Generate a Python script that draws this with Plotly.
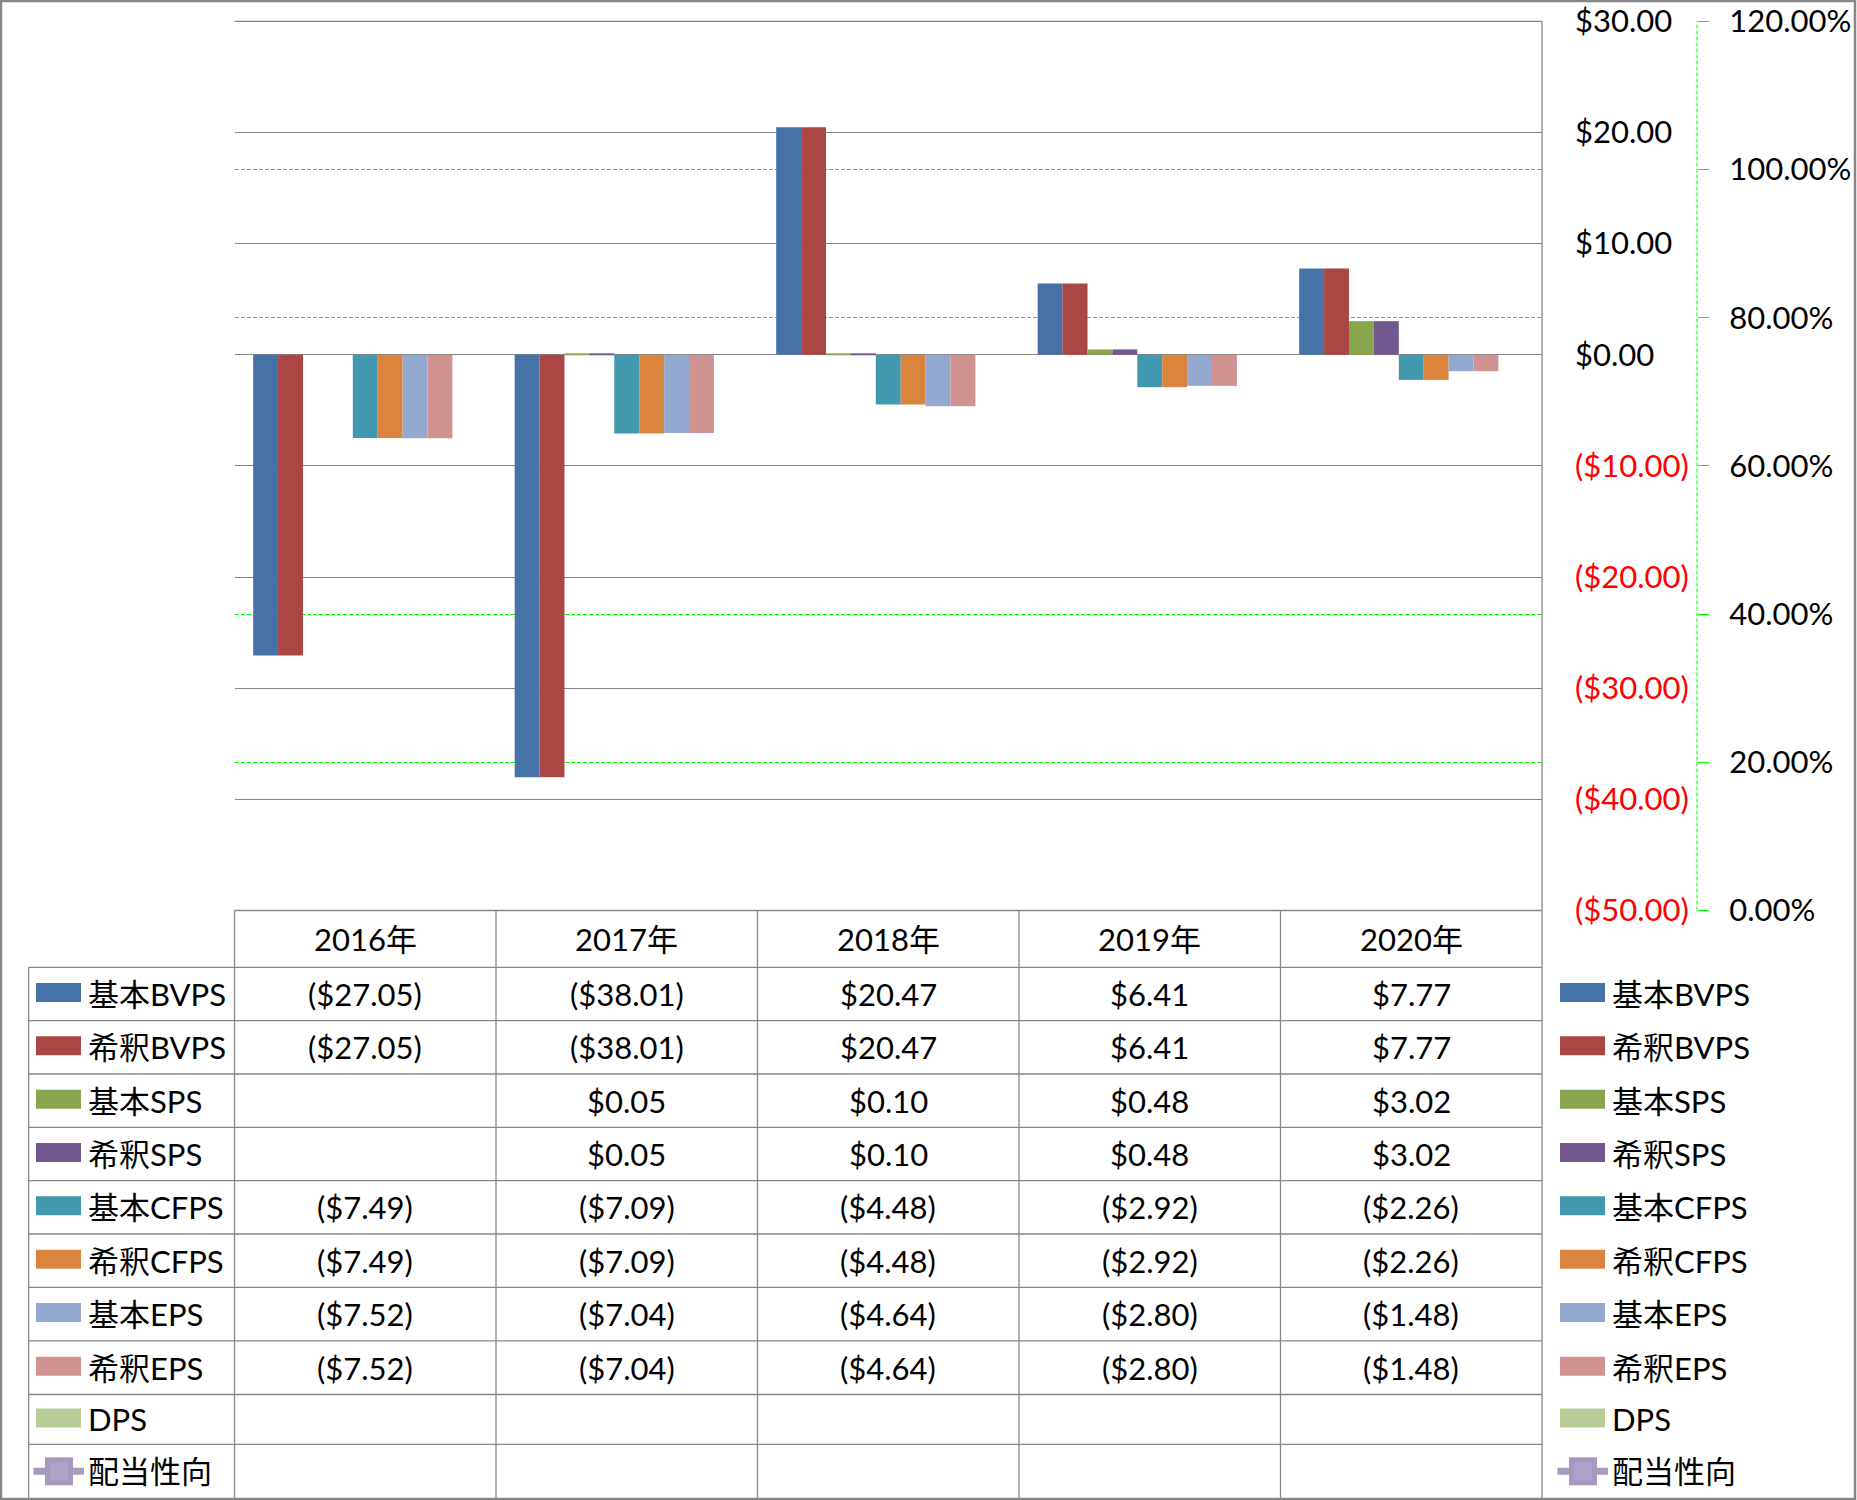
import plotly.graph_objects as go

# ---------------- data ----------------
years = ["2016年", "2017年", "2018年", "2019年", "2020年"]

series_names = ["基本BVPS", "希釈BVPS", "基本SPS", "希釈SPS", "基本CFPS",
                "希釈CFPS", "基本EPS", "希釈EPS", "DPS"]
basic_bvps = [-27.05, -38.01, 20.47, 6.41, 7.77]
diluted_bvps = [-27.05, -38.01, 20.47, 6.41, 7.77]
basic_sps = [None, 0.05, 0.10, 0.48, 3.02]
diluted_sps = [None, 0.05, 0.10, 0.48, 3.02]
basic_cfps = [-7.49, -7.09, -4.48, -2.92, -2.26]
diluted_cfps = [-7.49, -7.09, -4.48, -2.92, -2.26]
basic_eps = [-7.52, -7.04, -4.64, -2.80, -1.48]
diluted_eps = [-7.52, -7.04, -4.64, -2.80, -1.48]
dps = [None, None, None, None, None]
payout_name = "配当性向"
payout_ratio = [None, None, None, None, None]

dollar_ticks = [-50, -40, -30, -20, -10, 0, 10, 20, 30]
pct_ticks = [0.0, 0.2, 0.4, 0.6, 0.8, 1.0, 1.2]

# ---------------- styles ----------------
bar_colors = ["#4572A7", "#AA4643", "#89A54E", "#71588F", "#4198AF",
              "#DB843D", "#93A9CF", "#D19392", "#B9CD96"]
payout_color = "#A99BBD"
GRID = "#878787"
GREEN = "#00FF00"
FONT = "Lato, Noto Sans CJK JP, sans-serif"
FS = 31

W, H = 1857, 1500
def fx(p):
    return p / W
def fy(p):
    return 1 - p / H

PLOT_L, PLOT_R = 234.5, 1542.0
PLOT_T, PLOT_B = 21.3, 910.5
PCT_AXIS_X = 1697.0
row_bounds = [910.5, 967.3, 1020.7, 1074.0, 1127.3, 1180.6, 1234.0,
              1287.3, 1340.8, 1394.5, 1444.3, 1498.3]
LEG_COL_L = 28.7

def money(v):
    if v is None:
        return ""
    return f"${v:,.2f}" if v >= 0 else f"(${-v:,.2f})"

def money_tick(v):
    if v >= 0:
        return f"${v:,.2f}"
    return f'<span style="color:#FF0000">(${-v:,.2f})</span>'

all_series = [basic_bvps, diluted_bvps, basic_sps, diluted_sps, basic_cfps,
              diluted_cfps, basic_eps, diluted_eps, dps]

fig = go.Figure()

# percent line (secondary, empty)
fig.add_trace(go.Scatter(x=years, y=payout_ratio, name=payout_name, mode="lines+markers",
                         line=dict(color=payout_color, width=5),
                         marker=dict(symbol="square", size=14, color=payout_color),
                         xaxis="x", yaxis="y", showlegend=False))

n = len(all_series)
slot = 1 / (n + 1.5)
for i, (name, vals, col) in enumerate(zip(series_names, all_series, bar_colors)):
    fig.add_trace(go.Bar(x=years, y=vals, name=name, marker=dict(color=col, line=dict(width=0)),
                         width=slot, offset=-n * slot / 2 + i * slot,
                         xaxis="x", yaxis="y2", showlegend=False))

shapes = []
annotations = []

def hline(y, x0, x1, color=GRID, width=1.3, dash="solid"):
    shapes.append(dict(type="line", xref="paper", yref="paper", x0=fx(x0), x1=fx(x1),
                       y0=fy(y), y1=fy(y), line=dict(color=color, width=width, dash=dash)))

def vline(x, y0, y1, color=GRID, width=1.3, dash="solid"):
    shapes.append(dict(type="line", xref="paper", yref="paper", x0=fx(x), x1=fx(x),
                       y0=fy(y0), y1=fy(y1), line=dict(color=color, width=width, dash=dash)))

# plot frame: top and right
hline(PLOT_T, PLOT_L, PLOT_R)
vline(PLOT_R, PLOT_T, row_bounds[-1])

# percent axis dashed line
shapes.append(dict(type="line", xref="paper", yref="y domain", x0=fx(PCT_AXIS_X), x1=fx(PCT_AXIS_X),
                   y0=0, y1=1, line=dict(color=GREEN, width=1, dash="4px,2px")))

# table geometry
ncat = len(years)
col_bounds = [PLOT_L + (PLOT_R - PLOT_L) * k / ncat for k in range(ncat + 1)]
hline(row_bounds[0], PLOT_L, PLOT_R)
for y in row_bounds[1:-1]:
    hline(y, LEG_COL_L, PLOT_R)
vline(LEG_COL_L, row_bounds[1], row_bounds[-1])
for xb in col_bounds[:-1]:
    vline(xb, row_bounds[0], row_bounds[-1])

def row_center(r):
    return (row_bounds[r] + row_bounds[r + 1]) / 2

def text(x, y, s, anchor="center"):
    annotations.append(dict(x=fx(x), y=fy(y), xref="paper", yref="paper", text=s,
                            showarrow=False, xanchor=anchor, yanchor="middle",
                            font=dict(family=FONT, size=FS, color="black")))

# header
for k, yr in enumerate(years):
    annotations.append(dict(x=k, y=fy(row_center(0)), xref="x", yref="paper", text=yr,
                            showarrow=False, xanchor="center", yanchor="middle",
                            font=dict(family=FONT, size=FS, color="black")))
# values
for r, vals in enumerate(all_series):
    yc = row_center(r + 1)
    for k, v in enumerate(vals):
        s = money(v)
        if s:
            annotations.append(dict(x=k, y=fy(yc), xref="x", yref="paper", text=s,
                                    showarrow=False, xanchor="center", yanchor="middle",
                                    font=dict(family=FONT, size=FS, color="black")))

# legend keys (table column + right legend)
def bar_key(x0, yc, col, label, tx):
    shapes.append(dict(type="rect", xref="paper", yref="paper", x0=fx(x0), x1=fx(x0 + 45),
                       y0=fy(yc - 11), y1=fy(yc + 8), fillcolor=col, line=dict(width=0)))
    text(tx, yc, label, anchor="left")

def line_key(x0, yc, label, tx):
    shapes.append(dict(type="line", xref="paper", yref="paper", x0=fx(x0 - 2.5), x1=fx(x0 + 48),
                       y0=fy(yc), y1=fy(yc), line=dict(color=payout_color, width=7)))
    shapes.append(dict(type="rect", xref="paper", yref="paper", x0=fx(x0 + 9), x1=fx(x0 + 37),
                       y0=fy(yc - 14), y1=fy(yc + 14), fillcolor="#A698BF", line=dict(width=0)))
    shapes.append(dict(type="rect", xref="paper", yref="paper", x0=fx(x0 + 14), x1=fx(x0 + 32),
                       y0=fy(yc - 9), y1=fy(yc + 9), fillcolor="#AEA2C6", line=dict(width=0)))
    text(tx, yc, label, anchor="left")

for r, (name, col) in enumerate(zip(series_names, bar_colors)):
    yc = row_center(r + 1)
    bar_key(36, yc, col, name, 86)
    bar_key(1560, yc, col, name, 1610)
yc = row_center(len(series_names) + 1)
line_key(36, yc, payout_name, 86)
line_key(1560, yc, payout_name, 1610)

# outer border
shapes.append(dict(type="rect", xref="paper", yref="paper", x0=fx(1), x1=fx(W - 2),
                   y0=fy(H - 1), y1=fy(1), line=dict(color=GRID, width=2.5)))

fig.update_layout(
    width=W, height=H, autosize=False,
    margin=dict(l=0, r=0, t=0, b=0, pad=0, autoexpand=False),
    paper_bgcolor="white", plot_bgcolor="white",
    showlegend=False,
    font=dict(family=FONT, size=FS, color="black"),
    xaxis=dict(domain=[fx(PLOT_L), fx(PLOT_R)], range=[-0.5, 4.5], type="category",
               showticklabels=False, showgrid=False, zeroline=False, showline=False,
               ticks="", anchor="y2", automargin=False),
    yaxis=dict(domain=[fy(PLOT_B), fy(PLOT_T)], range=[0, 1.2], tickmode="array",
               tickvals=pct_ticks, ticktext=[f"{v * 100:.2f}%" for v in pct_ticks],
               side="right", anchor="free", position=fx(PCT_AXIS_X),
               ticks="outside", ticklen=11, tickcolor=GREEN, tickwidth=1,
               showgrid=True, gridcolor=GREEN, gridwidth=1, griddash="4px,2px",
               zeroline=False, showline=False, ticklabelstandoff=14, automargin=False,
               tickfont=dict(family=FONT, size=FS, color="black")),
    yaxis2=dict(overlaying="y", anchor="x", side="right", range=[-50, 30],
                tickmode="array", tickvals=dollar_ticks,
                ticktext=[money_tick(v) for v in dollar_ticks],
                showgrid=True, gridcolor=GRID, gridwidth=1.3, zeroline=False,
                showline=False, ticks="", ticklabelstandoff=32, automargin=False,
                tickfont=dict(family=FONT, size=FS, color="black")),
    shapes=shapes, annotations=annotations,
)

fig.write_html("out.html")
